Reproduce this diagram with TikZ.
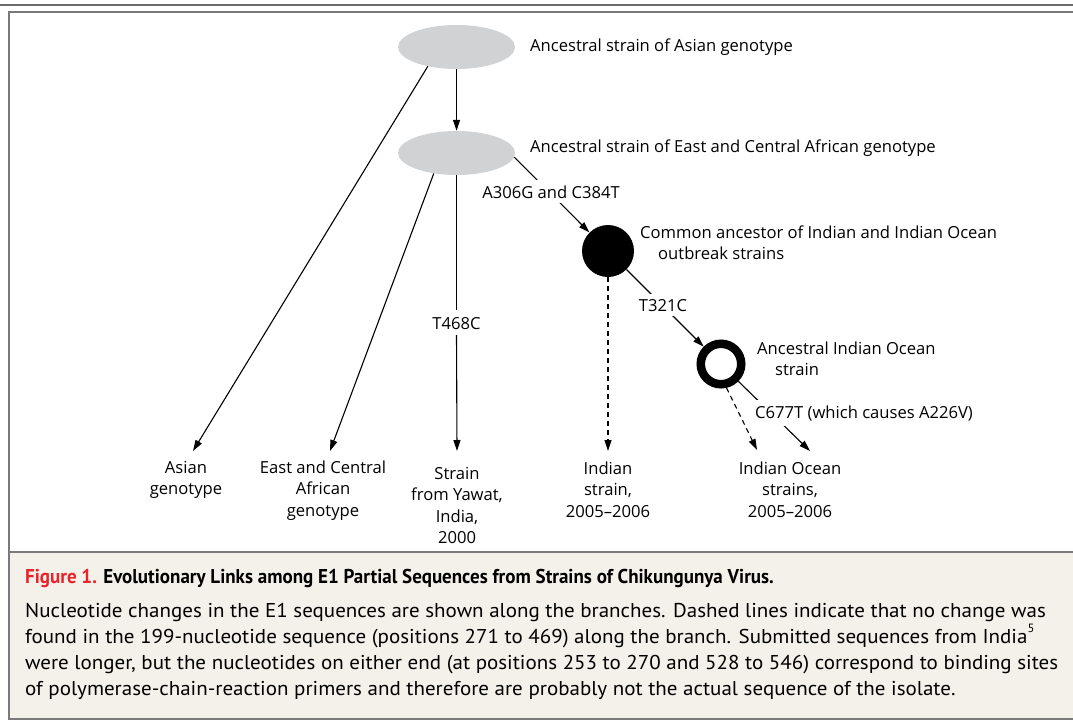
\documentclass[tikz,border=0pt]{standalone}
\usepackage{fontspec}
\setmainfont{Open Sans}
\newfontfamily\capfont[FakeStretch=1.05, BoldFeatures={FakeStretch=0.95}]{PT Sans}
\usetikzlibrary{shapes.geometric,arrows.meta}
\definecolor{ellgray}{HTML}{D1D2D4}
\definecolor{capbg}{HTML}{F4F1EA}
\definecolor{figred}{HTML}{E8232A}
\definecolor{rulegray}{HTML}{6A6A6A}
\definecolor{framegray}{HTML}{7A7A7A}
\begin{document}
\begin{tikzpicture}[x=1pt,y=-1pt,
  conn/.style={line width=1.1pt, black},
  arr/.style={conn, -{Triangle[length=11pt,width=7pt]}},
  dashline/.style={dash pattern=on 5pt off 4pt},
  lab/.style={font=\fontsize{16.6}{21.5}\selectfont, inner sep=0pt, align=center},
  labw/.style={lab, fill=white, inner xsep=2pt, inner ysep=5pt},
  ell/.style={ellipse, fill=ellgray, minimum width=117pt, minimum height=44pt, inner sep=0pt},
  capline/.style={font=\capfont\fontsize{20}{26}\selectfont, inner sep=0pt, anchor=base west},
  ]
\useasboundingbox (0,0) rectangle (1073,721);
% frame and caption background
\fill[capbg] (9,552) rectangle (1073,719);
\draw[rulegray, line width=2.2pt] (0,5) -- (1073,5);
\draw[framegray, line width=1.2pt] (1073,12) -- (9,12) -- (9,719) -- (1073,719);
\draw[framegray, line width=1.2pt] (9,552) -- (1073,552);

% nodes
\node[ell] (e1) at (456.5,47) {};
\node[ell] (e2) at (456.5,153) {};
\node[circle, fill=black, minimum size=52pt, inner sep=0pt] (c1) at (608,251) {};
\node[circle, draw=black, line width=8.5pt, minimum size=40.5pt, inner sep=0pt] (c2) at (721,364) {};

% (anchor=base is the baseline of the last line)
\node[lab, anchor=base west] (l1) at (530,51) {Ancestral strain of Asian genotype};
\node[lab, anchor=base west] (l2) at (530,152) {Ancestral strain of East and Central African genotype};
\node[lab, anchor=base west, align=left] (l3) at (640,259.5) {Common ancestor of Indian and Indian Ocean\\\hspace*{18pt}outbreak strains};
\node[lab, anchor=base west, align=left] (l4) at (757,375.5) {Ancestral Indian Ocean\\\hspace*{18pt}strain};

% bottom labels
\node[lab, anchor=base] (asian) at (186,494.5) {Asian\\genotype};
\node[lab, anchor=base] (ecsa) at (323,516) {East and Central\\African\\genotype};
\node[lab, anchor=base] (yawat) at (457,543.5) {Strain\\from Yawat,\\India,\\2000};
\node[lab, anchor=base] (indian) at (608,517) {Indian\\strain,\\2005--2006};
\node[lab, anchor=base] (ocean) at (790,517) {Indian Ocean\\strains,\\2005--2006};

% arrow tips
\coordinate (tAsian) at (193,451);
\coordinate (tEcsa) at (330,451);
\coordinate (tYawat) at (457,451);
\coordinate (tIndian) at (608,451);
\coordinate (tOceanD) at (757,450);
\coordinate (tOceanS) at (810,451);

% connectors
\draw[arr] (e1.south) -- (e2.north);
\draw[arr] (e1.214) -- (tAsian);
\draw[arr] (e2.222) -- (tEcsa);
\draw[conn] (e2.south) -- (456.5,310);
\draw[arr] (456.5,335) -- (tYawat);
\draw[arr] (e2.-4) -- (c1.135);
\draw[arr] (c1.-45) -- (c2.135);
\draw[arr, dashline] (c1.south) -- (tIndian);
\draw[arr, dashline] (c2.-77) -- (tOceanD);
\draw[arr] (c2.-45) -- (tOceanS);

% mutation labels (white background interrupts the branch)
\node[lab, anchor=base] (t468) at (456.5,329) {T468C};
\node[labw, anchor=base] (m1) at (551,198) {A306G and C384T};
\node[labw, anchor=base] (m2) at (663,311) {T321C};
\node[labw, anchor=base west] (m3) at (753,418) {C677T (which causes A226V)};

% caption
\node[capline] (cap0) at (25,583) {\bfseries\textcolor{figred}{Figure 1.} Evolutionary Links among E1 Partial Sequences from Strains of Chikungunya Virus.};
\node[capline] (cap1) at (25,617) {Nucleotide changes in the E1 sequences are shown along the branches. Dashed lines indicate that no change was};
\node[capline] (cap2) at (25,643) {found in the 199-nucleotide sequence (positions 271 to 469) along the branch. Submitted sequences from India\raisebox{0.55em}{\fontsize{12}{12}\selectfont 5}};
\node[capline] (cap3) at (25,669) {were longer, but the nucleotides on either end (at positions 253 to 270 and 528 to 546) correspond to binding sites};
\node[capline] (cap4) at (25,695) {of polymerase-chain-reaction primers and therefore are probably not the actual sequence of the isolate.};
\end{tikzpicture}
\end{document}
